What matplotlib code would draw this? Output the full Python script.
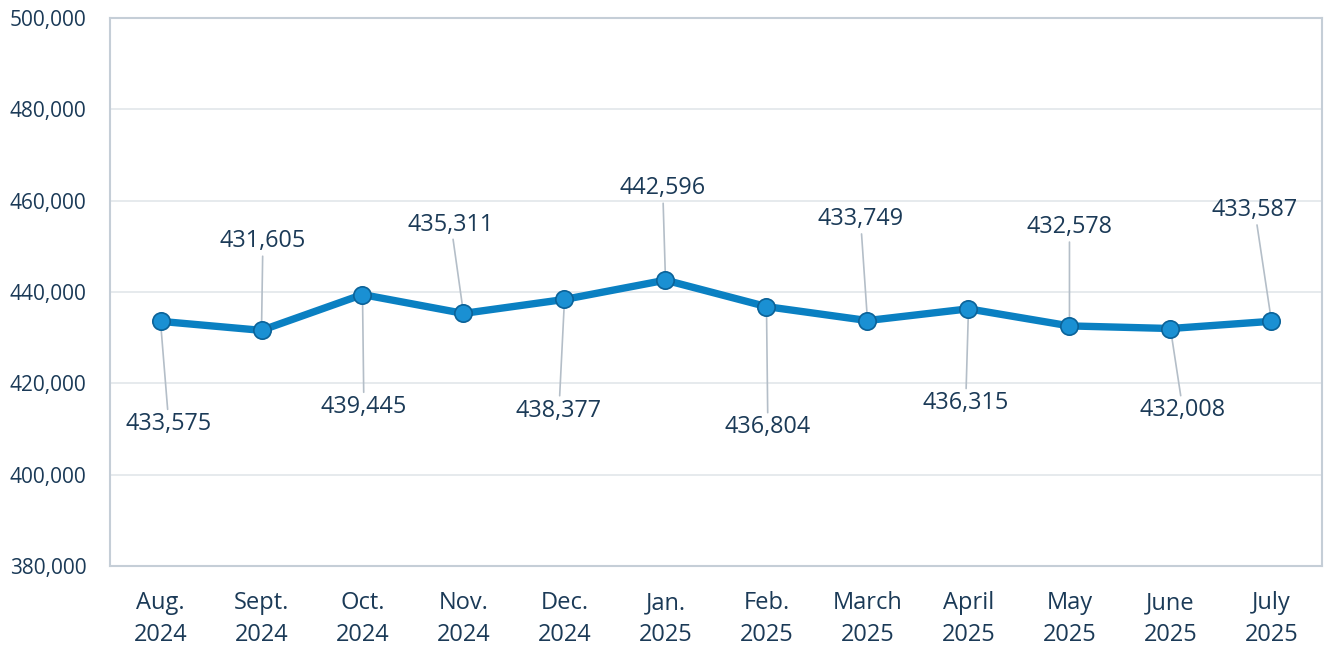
import matplotlib.pyplot as plt
from matplotlib.ticker import FuncFormatter

months = ['Aug.\n2024', 'Sept.\n2024', 'Oct.\n2024', 'Nov.\n2024', 'Dec.\n2024', 'Jan.\n2025',
          'Feb.\n2025', 'March\n2025', 'April\n2025', 'May\n2025', 'June\n2025', 'July\n2025']
values = [433575, 431605, 439445, 435311, 438377, 442596,
          436804, 433749, 436315, 432578, 432008, 433587]

# label offsets in points (x, y) relative to each point
label_offsets = [(6, -74), (1, 64), (1, -81), (-9, 64), (-4, -80), (-2, 66),
                 (1, -87), (-5, 73), (-2, -68), (0, 71), (9, -59), (-12, 80)]

text_col = '#1B3A57'
line_col = '#0A80C2'

plt.rcParams['font.family'] = ['Open Sans', 'DejaVu Sans']

fig = plt.figure(figsize=(13.27, 6.5), dpi=100)
ax = fig.add_axes([0.0829, 0.1292, 0.9133, 0.8431])

x = list(range(len(values)))
ax.plot(x, values, color=line_col, lw=5.3, zorder=3, solid_capstyle='round')
ax.plot(x, values, 'o', ms=12.5, mfc='#1A90D3', mec='#0B6298', mew=1.2, zorder=4)

for i, v in enumerate(values):
    ax.annotate(f'{v:,}', xy=(i, v), xytext=label_offsets[i], textcoords='offset points',
                ha='center', va='center', fontsize=16.8, color=text_col,
                arrowprops=dict(arrowstyle='-', color='#B4BEC8', lw=1.2,
                                shrinkA=0, shrinkB=0),
                zorder=2)

ax.set_xlim(-0.5, len(values) - 0.5)
ax.set_ylim(380000, 500000)
ax.set_yticks(range(380000, 500001, 20000))
ax.yaxis.set_major_formatter(FuncFormatter(lambda v, p: f'{int(v):,}'))
ax.set_xticks(x)
ax.set_xticklabels(months, linespacing=1.45)

ax.tick_params(axis='y', length=0, pad=17, labelsize=15, labelcolor=text_col)
ax.tick_params(axis='x', length=0, pad=18, labelsize=17, labelcolor=text_col)
ax.grid(axis='y', color='#E2E6EA', lw=1.2, zorder=0)
for s in ax.spines.values():
    s.set_color('#C5CED7')
    s.set_linewidth(1.5)

fig.savefig('out.png', dpi=100, facecolor='white')
